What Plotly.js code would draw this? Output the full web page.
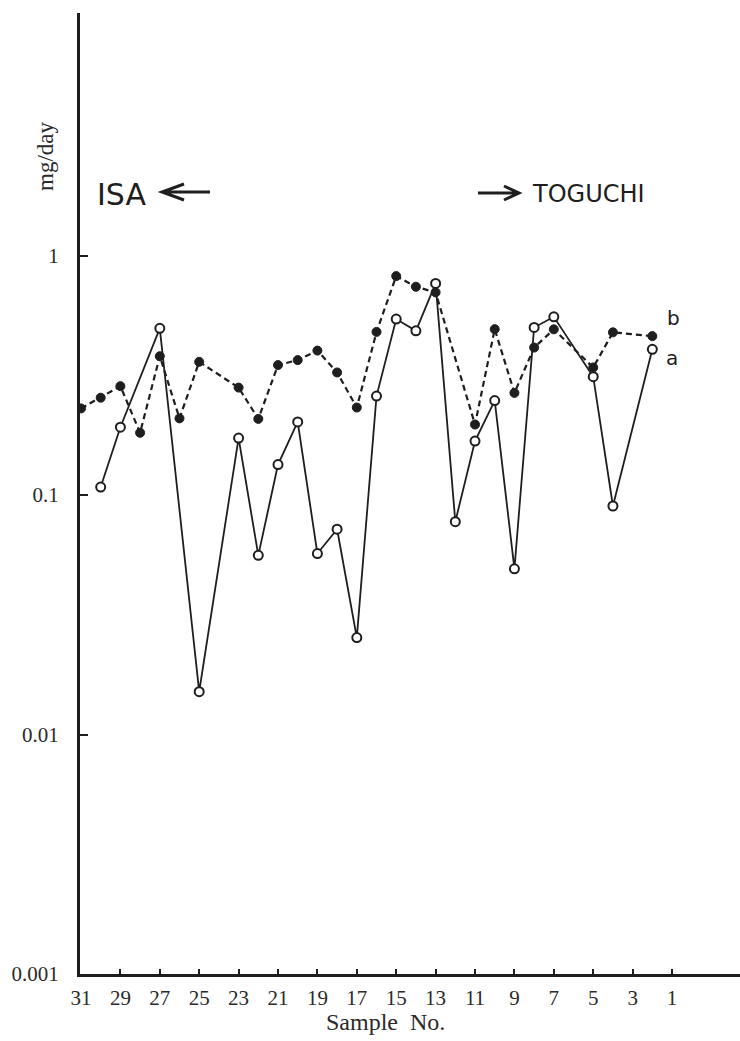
<!DOCTYPE html>
<html>
<head>
<meta charset="utf-8">
<script src="https://cdn.plot.ly/plotly-3.0.1.min.js"></script>
<style>html,body{margin:0;padding:0;background:#fff;}#chart{width:740px;height:1041px;}</style>
</head>
<body>
<div id="chart"></div>
<script>
// Sample numbers (x axis runs from 31 on the left to 1 on the right)
const sampleNo = [31,30,29,28,27,26,25,24,23,22,21,20,19,18,17,16,15,14,13,12,11,10,9,8,7,6,5,4,3,2,1];
// Series a (open circles, solid line), mg/day; null = not measured
const seriesA = [null,0.108,0.192,null,0.497,null,0.0151,null,0.173,0.056,0.134,0.202,0.057,0.072,0.0254,0.259,0.543,0.485,0.765,0.0774,0.168,0.248,0.0492,0.501,0.555,null,0.312,0.090,null,0.406,null];
// Series b (filled circles, dashed line), mg/day
const seriesB = [0.230,0.255,0.285,0.182,0.380,0.209,0.360,null,0.281,0.208,0.349,0.366,0.401,0.325,0.232,0.480,0.821,0.741,0.702,null,0.197,0.493,0.267,0.413,0.492,null,0.341,0.478,null,0.461,null];
const xTicks = [31,29,27,25,23,21,19,17,15,13,11,9,7,5,3,1];
const yTickVals = [0.001,0.01,0.1,1];
const yTickText = ['0.001','0.01','0.1','1'];

const ink = '#1e1e1e';
const serif = 'Liberation Serif, DejaVu Serif, serif';
const sans = 'DejaVu Sans, Liberation Sans, sans-serif';

const traces = [
  {x: sampleNo, y: seriesB, type: 'scatter', mode: 'lines+markers', connectgaps: true, name: 'b',
   line: {color: ink, width: 2.2, dash: '6px,4px'},
   marker: {symbol: 'circle', size: 9, color: ink, line: {color: ink, width: 1}}},
  {x: sampleNo, y: seriesA, type: 'scatter', mode: 'lines+markers', connectgaps: true, name: 'a',
   line: {color: ink, width: 1.8},
   marker: {symbol: 'circle', size: 9, color: '#fff', line: {color: ink, width: 2}}}
];

function px(x){return (x-80)/660;}
function py(y){return (974-y)/961;}

const layout = {
  width: 740, height: 1041,
  margin: {l: 80, r: 0, t: 13, b: 67},
  paper_bgcolor: '#fff', plot_bgcolor: '#fff',
  showlegend: false,
  xaxis: {
    range: [31.05, -2.45], showgrid: false, zeroline: false,
    showline: true, linecolor: ink, linewidth: 3,
    tickmode: 'array', tickvals: xTicks, ticks: 'inside', ticklen: 5, tickwidth: 2, tickcolor: ink,
    tickfont: {family: serif, size: 21, color: '#2a2a2a'}, ticklabelstandoff: 3
  },
  yaxis: {
    type: 'log', range: [-3, 1.013], showgrid: false, zeroline: false,
    showline: true, linecolor: ink, linewidth: 3,
    tickmode: 'array', tickvals: yTickVals, ticktext: yTickText,
    ticks: 'inside', ticklen: 8, tickwidth: 2, tickcolor: ink,
    tickfont: {family: serif, size: 21, color: '#2a2a2a'}, ticklabelstandoff: 14
  },
  annotations: [
    {text: 'mg/day', xref: 'paper', yref: 'paper', x: px(45), y: py(157), textangle: -90,
     showarrow: false, font: {family: serif, size: 23, color: '#2a2a2a'}, xanchor: 'center', yanchor: 'middle'},
    {text: 'Sample  No.', xref: 'paper', yref: 'paper', x: px(385), y: py(1022),
     showarrow: false, font: {family: serif, size: 24, color: '#2a2a2a'}, xanchor: 'center', yanchor: 'middle'},
    {text: 'ISA', xref: 'paper', yref: 'paper', x: px(95), y: py(194),
     showarrow: false, font: {family: sans, size: 30, color: ink}, xanchor: 'left', yanchor: 'middle'},
    {text: 'TOGUCHI', xref: 'paper', yref: 'paper', x: px(530), y: py(194),
     showarrow: false, font: {family: sans, size: 24, color: ink}, xanchor: 'left', yanchor: 'middle'},
    {text: 'b', xref: 'paper', yref: 'paper', x: px(673), y: py(318),
     showarrow: false, font: {family: sans, size: 20, color: ink}, xanchor: 'center', yanchor: 'middle'},
    {text: 'a', xref: 'paper', yref: 'paper', x: px(672), y: py(358),
     showarrow: false, font: {family: sans, size: 20, color: ink}, xanchor: 'center', yanchor: 'middle'}
  ],
  shapes: [
    {type: 'path', xref: 'paper', yref: 'paper',
     path: `M ${px(210)} ${py(192)} L ${px(162)} ${py(192)} M ${px(184)} ${py(184)} L ${px(162)} ${py(192)} L ${px(184)} ${py(200)}`,
     line: {color: ink, width: 3}},
    {type: 'path', xref: 'paper', yref: 'paper',
     path: `M ${px(478)} ${py(193)} L ${px(519)} ${py(193)} M ${px(504)} ${py(186)} L ${px(519)} ${py(193)} L ${px(504)} ${py(200)}`,
     line: {color: ink, width: 3}}
  ]
};

Plotly.newPlot('chart', traces, layout, {displayModeBar: false, staticPlot: true});
</script>
</body>
</html>
